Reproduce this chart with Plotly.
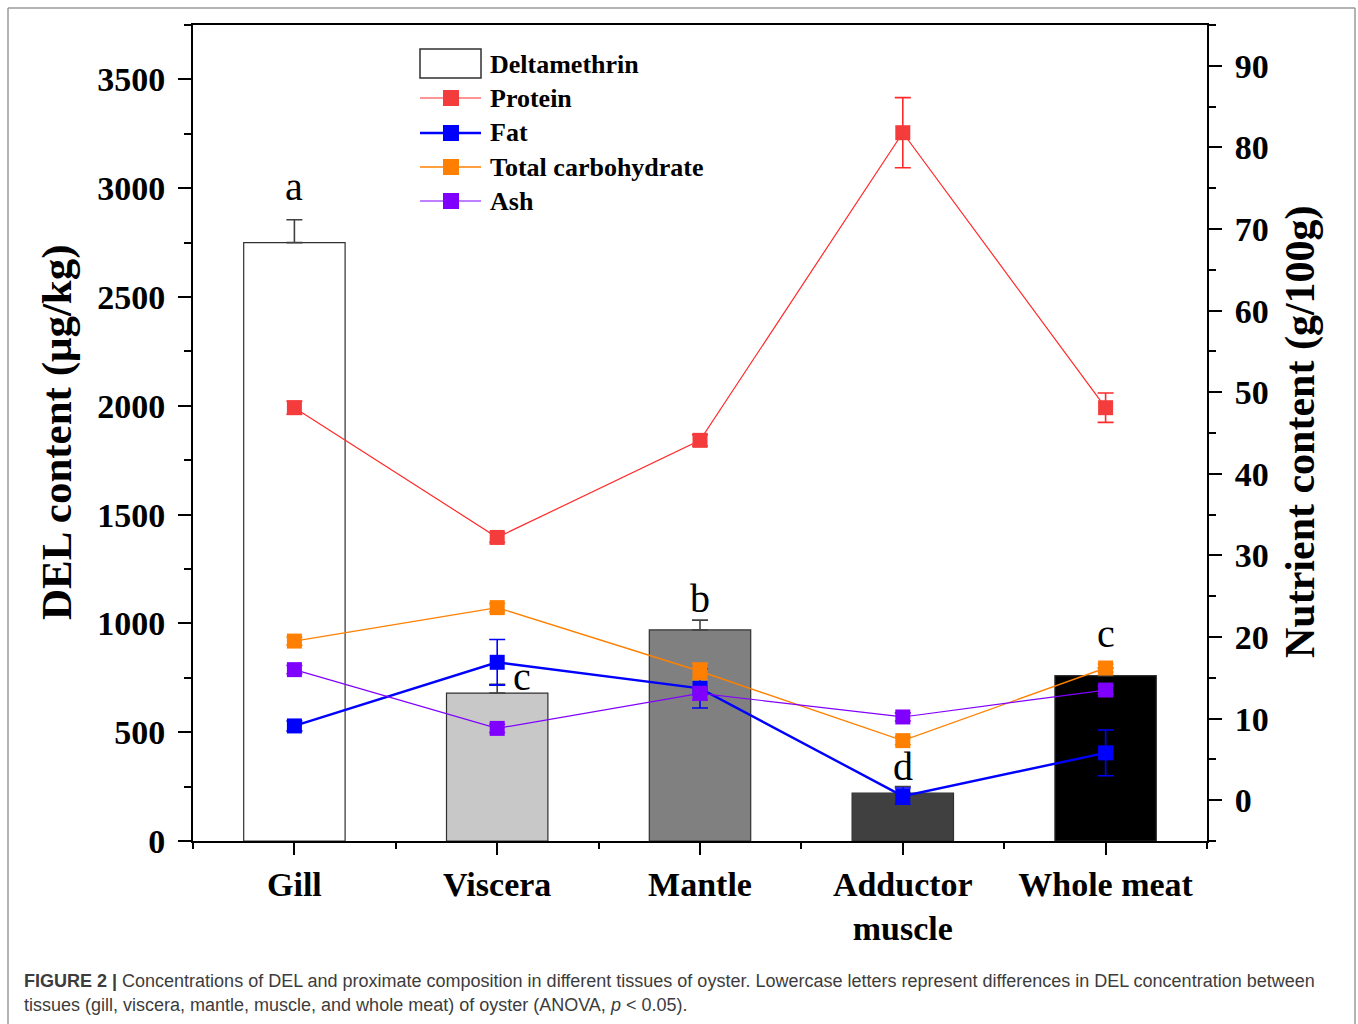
import plotly.graph_objects as go

# ---- data -------------------------------------------------------------
tissues = ["Gill", "Viscera", "Mantle", "Adductor<br>muscle", "Whole meat"]
del_content = [2750, 680, 970, 220, 760]          # µg/kg
del_err = [105, 40, 45, 30, 35]
del_letters = ["a", "c", "b", "d", "c"]
letter_y = [2944, 693, 1052, 280, 890]           # baseline of each letter (µg/kg scale)

protein = [48.1, 32.2, 44.1, 81.8, 48.1]         # g/100g
protein_err = [0.8, 0.6, 0.7, 4.3, 1.8]
fat = [9.1, 16.9, 13.7, 0.5, 5.8]
fat_err = [0.6, 2.8, 2.4, 1.0, 2.8]
carb = [19.5, 23.6, 15.8, 7.3, 16.2]
carb_err = [0.5, 0.5, 1.0, 0.5, 0.5]
ash = [16.0, 8.8, 13.1, 10.2, 13.5]
ash_err = [0.5, 0.5, 0.8, 0.5, 0.5]

bar_colors = ["#FFFFFF", "#C8C8C8", "#808080", "#404040", "#000000"]
x = list(range(len(tissues)))

# ---- canvas geometry --------------------------------------------------
W, H = 1358, 1024
L, R, T, B = 193, 1207, 25, 841   # plot area in pixels


def px(xp):
    return (xp - L) / (R - L)


def py(yp):
    return (B - yp) / (B - T)


SERIF = "Liberation Serif"
fig = go.Figure()

# DEL bars with upper-only error bars
fig.add_trace(go.Bar(
    x=x, y=del_content, width=0.5,
    marker=dict(color=bar_colors, line=dict(color="#303030", width=1.2)),
    error_y=dict(type="data", symmetric=False, array=del_err,
                 arrayminus=[0] * len(del_err), color="#404040", thickness=1.6, width=8),
    yaxis="y", showlegend=False, name="Deltamethrin",
))

series = [
    ("Protein", protein, protein_err, "#F53C3C", "#FF2A2A", 1.2),
    ("Fat", fat, fat_err, "#0000FF", "#0000FF", 2.4),
    ("Total carbohydrate", carb, carb_err, "#FF8000", "#FF8000", 1.4),
    ("Ash", ash, ash_err, "#8000FF", "#8000FF", 1.2),
]
for name, vals, errs, mcol, lcol, lw in series:
    fig.add_trace(go.Scatter(
        x=x, y=vals, mode="lines+markers", name=name, yaxis="y2",
        line=dict(color=lcol, width=lw),
        marker=dict(symbol="square", size=15, color=mcol, line=dict(width=0)),
        error_y=dict(type="data", array=errs, color=lcol, thickness=1.6, width=8),
        showlegend=False,
    ))

annotations = []
# significance letters
for i, (lt, yv) in enumerate(zip(del_letters, letter_y)):
    annotations.append(dict(
        x=i, y=yv, xref="x", yref="y", text=lt, showarrow=False,
        xanchor="center", yanchor="bottom", yshift=-11,
        xshift=25 if i == 1 else 0,
        font=dict(family=SERIF, size=40, color="black"),
    ))

# axis titles
annotations.append(dict(
    x=px(57), y=py(432), xref="paper", yref="paper", text="DEL content (μg/kg)",
    textangle=-90, showarrow=False, xanchor="center", yanchor="middle",
    font=dict(family=SERIF, size=43, color="black", weight="bold"),
))
annotations.append(dict(
    x=px(1300), y=py(432), xref="paper", yref="paper", text="Nutrient content (g/100g)",
    textangle=-90, showarrow=False, xanchor="center", yanchor="middle",
    font=dict(family=SERIF, size=42, color="black", weight="bold"),
))

# legend (drawn as shapes + labels)
shapes = []
leg_x0, leg_x1 = 420, 481
rows = [64, 98, 133, 167, 201]
shapes.append(dict(type="rect", xref="paper", yref="paper",
                   x0=px(leg_x0), x1=px(leg_x1), y0=py(49), y1=py(78),
                   line=dict(color="#303030", width=1.5), fillcolor="white"))
for (name, _, _, mcol, lcol, lw), ry in zip(series, rows[1:]):
    shapes.append(dict(type="line", xref="paper", yref="paper",
                       x0=px(leg_x0), x1=px(leg_x1), y0=py(ry), y1=py(ry),
                       line=dict(color=lcol, width=lw)))
    shapes.append(dict(type="rect", xref="paper", yref="paper",
                       x0=px(443), x1=px(459), y0=py(ry - 8), y1=py(ry + 8),
                       line=dict(width=0), fillcolor=mcol))
for label, ry in zip(["Deltamethrin"] + [s[0] for s in series], rows):
    annotations.append(dict(
        x=px(488), y=py(ry), xref="paper", yref="paper", text=label, showarrow=False,
        xanchor="left", yanchor="middle",
        font=dict(family=SERIF, size=26, color="black", weight="bold"),
    ))

# caption
annotations.append(dict(
    x=px(22), y=py(981), xref="paper", yref="paper", showarrow=False,
    xanchor="left", yanchor="middle",
    text="<b>FIGURE 2 |</b> Concentrations of DEL and proximate composition in different tissues of oyster. "
         "Lowercase letters represent differences in DEL concentration between",
    font=dict(family="Liberation Sans", size=18, color="#3c3c3c"),
))
annotations.append(dict(
    x=px(22), y=py(1005), xref="paper", yref="paper", showarrow=False,
    xanchor="left", yanchor="middle",
    text="tissues (gill, viscera, mantle, muscle, and whole meat) of oyster (ANOVA, <i>p</i> &lt; 0.05).",
    font=dict(family="Liberation Sans", size=18, color="#3c3c3c"),
))

# outer frame
frame = dict(color="#9a9a9a", width=1.5)
shapes += [
    dict(type="line", xref="paper", yref="paper", x0=px(8), x1=px(1355), y0=py(8), y1=py(8), line=frame),
    dict(type="line", xref="paper", yref="paper", x0=px(8), x1=px(8), y0=py(8), y1=py(1024), line=frame),
    dict(type="line", xref="paper", yref="paper", x0=px(1355), x1=px(1355), y0=py(8), y1=py(1024), line=frame),
]

tickfont = dict(family=SERIF, size=34, color="black", weight="bold")
fig.update_layout(
    width=W, height=H,
    margin=dict(l=L, r=W - R, t=T, b=H - B, pad=0),
    paper_bgcolor="white", plot_bgcolor="white",
    bargap=0.5,
    xaxis=dict(
        range=[-0.5, 4.5], tickmode="array", tickvals=x, ticktext=tissues,
        showline=True, linecolor="black", linewidth=2, mirror=True,
        ticks="outside", ticklen=12, tickwidth=2, tickcolor="black",
        minor=dict(tickmode="array", tickvals=[-0.5, 0.5, 1.5, 2.5, 3.5, 4.5],
                   ticks="outside", ticklen=6, tickwidth=2, tickcolor="black"),
        showgrid=False, zeroline=False, tickfont=tickfont, ticklabelstandoff=0,
    ),
    yaxis=dict(
        range=[0, 3750], tick0=0, dtick=500,
        showline=True, linecolor="black", linewidth=2,
        ticks="outside", ticklen=13, tickwidth=2, tickcolor="black",
        minor=dict(tick0=0, dtick=250, ticks="outside", ticklen=7, tickwidth=2, tickcolor="black"),
        showgrid=False, zeroline=False, tickfont=tickfont, ticklabelstandoff=6,
    ),
    yaxis2=dict(
        range=[-5, 95], tick0=0, dtick=10, overlaying="y", side="right",
        showline=True, linecolor="black", linewidth=2,
        ticks="outside", ticklen=13, tickwidth=2, tickcolor="black",
        minor=dict(tick0=0, dtick=5, ticks="outside", ticklen=7, tickwidth=2, tickcolor="black"),
        showgrid=False, zeroline=False, tickfont=tickfont, ticklabelstandoff=6,
        tickvals=[0, 10, 20, 30, 40, 50, 60, 70, 80, 90],
    ),
    annotations=annotations,
    shapes=shapes,
)

fig.write_html("out.html")
